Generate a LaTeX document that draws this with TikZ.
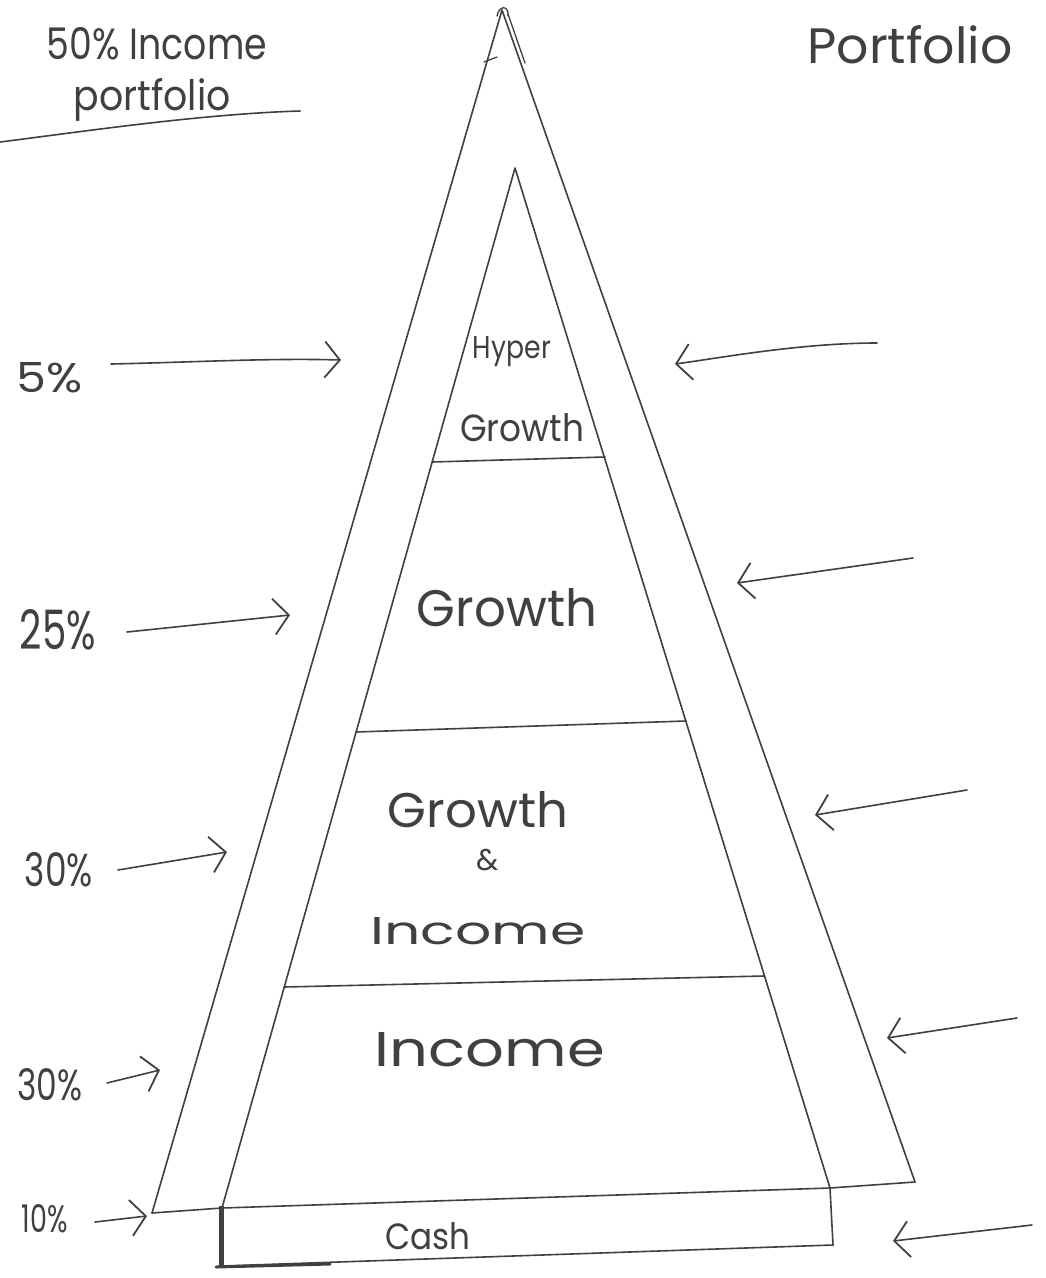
\documentclass[tikz,border=0pt]{standalone}
\usepackage{fontspec}
\setmainfont{Poppins}
\usetikzlibrary{arrows.meta}
\definecolor{ink}{HTML}{404040}
\begin{document}
\begin{tikzpicture}[x=1pt,y=-1pt,
  ln/.style={draw=ink,line width=1.6pt,line cap=round,line join=round},
  arr/.style={ln,-{Straight Barb[length=15pt,width=36pt,line width=1.8pt]}},
  lbl/.style={text=ink,inner sep=0pt},
  wd/.style={text=ink,inner sep=0pt}]
\fill[white] (0,0) rectangle (1045,1278);
\useasboundingbox (0,0) rectangle (1045,1278);

% triangle corners
\coordinate (O)  at (502,10);
\coordinate (OL) at (152,1213);
\coordinate (OR) at (915,1182);
\coordinate (I)  at (515,168);
\coordinate (IL) at (222,1208);
\coordinate (IR) at (830,1188);
\coordinate (CL) at (222,1266);
\coordinate (CR) at (833,1245);

% outer triangle
\draw[ln] (OL) -- (O) -- (OR);
\draw[ln] (OL) -- (IL) -- (IR) -- (OR);
% apex scribbles
\draw[ln,line width=1.3pt] (497,16) .. controls (499,5) and (509,5) .. (508,16);
\draw[ln,line width=1.3pt] (508,14) -- (525,63);
\draw[ln,line width=1.3pt] (484,62) -- (497,57);

% inner triangle
\draw[ln] (IL) -- (I) -- (IR);
% section dividers
\coordinate (h1) at (432,462); \coordinate (h2) at (605,457);
\coordinate (g1) at (356,732); \coordinate (g2) at (686,721);
\coordinate (m1) at (284,987); \coordinate (m2) at (764,976);
\draw[ln] (h1) -- (h2);
\draw[ln] (g1) -- (g2);
\draw[ln] (m1) -- (m2);
% cash box
\draw[ln] (IR) -- (CR);
\draw[ln] (CL) -- (CR);
\draw[ln,line width=5pt,line cap=butt] (221,1206) -- (221,1266);
\draw[ln,line width=3pt] (216,1267) -- (330,1264);

% pyramid texts
\node[wd] (hy) at (512,352) {\resizebox{78pt}{22pt}{Hyper}};
\node[wd] (hg) at (522,428) {\resizebox{124pt}{28pt}{Growth}};
\node[wd] (gr) at (507,608) {\resizebox{180pt}{38pt}{Growth}};
\node[wd] (gi1) at (478,810) {\resizebox{180pt}{36pt}{Growth}};
\node[wd] (gi2) at (488,860) {\fontsize{30}{30}\selectfont\&};
\node[wd] (gi3) at (478,931) {\resizebox{215pt}{27pt}{Income}};
\node[wd] (inc) at (490,1050) {\resizebox{230pt}{34pt}{Income}};
\node[wd] (cash) at (428,1236) {\resizebox{85pt}{27pt}{Cash}};

% top texts
\node[wd] (t1) at (157,44) {\resizebox{220pt}{32pt}{50\% Income}};
\node[wd] (t2) at (152,100) {\resizebox{157pt}{32pt}{portfolio}};
\draw[ln] (0,142) .. controls (80,132) and (200,114) .. (300,111);
\node[wd] (t3) at (910,45) {\resizebox{205pt}{38pt}{Portfolio}};

% left labels and arrows
\node[lbl] (p5) at (50,378) {\resizebox{66pt}{30pt}{5\%}};
\coordinate (a5s) at (111,364); \coordinate (a5e) at (341,360);
\draw[arr] (a5s) .. controls (200,362) and (270,358) .. (a5e);

\node[lbl] (p25) at (58,630) {\resizebox{76pt}{40pt}{25\%}};
\coordinate (a25s) at (127,632); \coordinate (a25e) at (290,615);
\draw[arr] (a25s) -- (a25e);

\node[lbl] (p30a) at (59,870) {\resizebox{68pt}{34pt}{30\%}};
\coordinate (a30s) at (118,870); \coordinate (a30e) at (227,852);
\draw[arr] (a30s) -- (a30e);

\node[lbl] (p30b) at (50,1085) {\resizebox{65pt}{32pt}{30\%}};
\coordinate (b30s) at (107,1083); \coordinate (b30e) at (160,1070);
\draw[arr] (b30s) -- (b30e);

\node[lbl] (p10) at (45,1219) {\resizebox{46pt}{28pt}{10\%}};
\coordinate (a10s) at (95,1222); \coordinate (a10e) at (147,1216);
\draw[arr] (a10s) -- (a10e);

% right arrows
\coordinate (r1s) at (877,343); \coordinate (r1e) at (675,364);
\draw[arr] (r1s) .. controls (800,343) and (720,358) .. (r1e);
\coordinate (r2s) at (913,558); \coordinate (r2e) at (737,583);
\draw[arr] (r2s) -- (r2e);
\coordinate (r3s) at (967,790); \coordinate (r3e) at (815,815);
\draw[arr] (r3s) -- (r3e);
\coordinate (r4s) at (1017,1018); \coordinate (r4e) at (887,1038);
\draw[arr] (r4s) -- (r4e);
\coordinate (r5s) at (1032,1225); \coordinate (r5e) at (893,1241);
\draw[arr] (r5s) -- (r5e);
\end{tikzpicture}
\end{document}
